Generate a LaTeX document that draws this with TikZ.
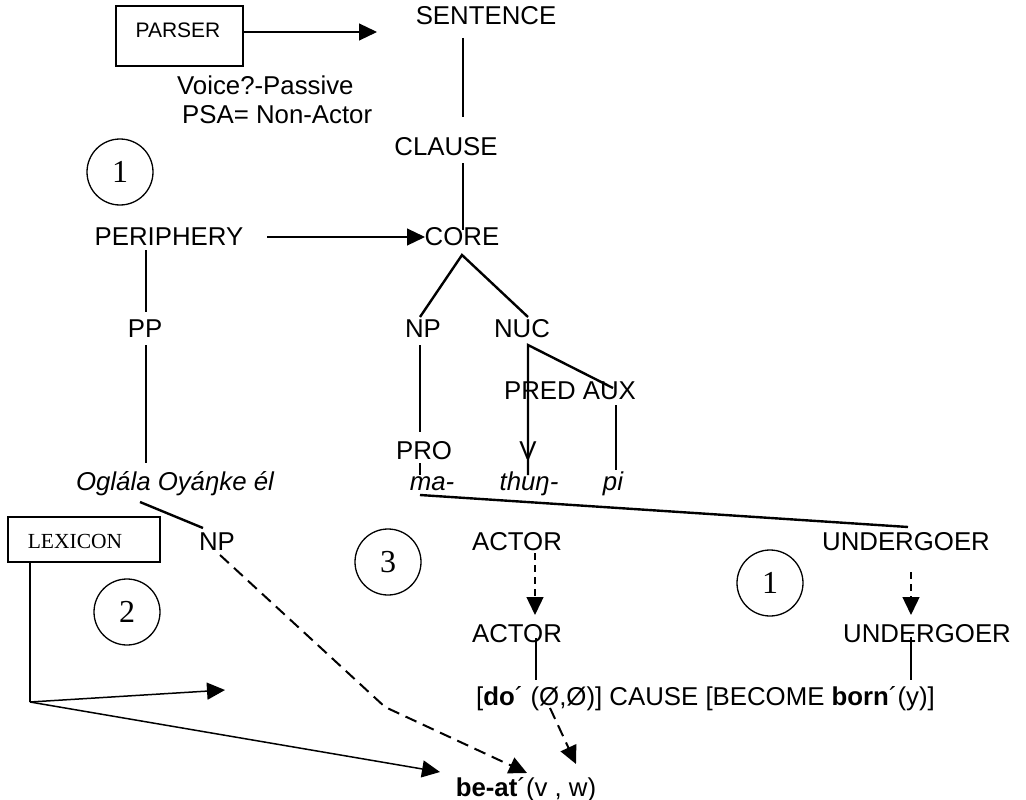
\documentclass[tikz,border=0pt]{standalone}
\usepackage{fontspec}
\setmainfont{Liberation Sans}
\newfontfamily\sansmain{Liberation Sans}
\newfontfamily\serifnum{Liberation Serif}
\usetikzlibrary{arrows.meta}
\begin{document}
\begin{tikzpicture}[x=1pt,y=-1pt,
  lbl/.style={inner sep=0pt, anchor=base, font=\sansmain\fontsize{25.8}{30}\selectfont},
  ital/.style={inner sep=0pt, anchor=base, font=\sansmain\fontsize{25.8}{30}\selectfont\itshape},
  tree/.style={line width=2.4pt},
  tip/.style={-{Triangle[length=18pt,width=17pt]}},
  thinarr/.style={line width=1.2pt, tip},
  lexarr/.style={line width=1.5pt, tip},
  dasharr/.style={line width=1.4pt, dash pattern=on 7pt off 5pt, tip},
  longdash/.style={line width=2pt, dash pattern=on 12pt off 7pt, tip},
  boxed/.style={draw, line width=1.3pt, inner sep=0pt},
  num/.style={draw, circle, line width=1.3pt, minimum size=66pt, inner sep=0pt,
    font=\serifnum\fontsize{32}{36}\selectfont},
]
\useasboundingbox (0,0) rectangle (1026,800);

% boxes
\node[boxed, minimum width=127pt, minimum height=60pt] (parserbox) at (179.5,36) {};
\node[inner sep=0pt, anchor=base, font=\sansmain\fontsize{21}{24}\selectfont] (parser) at (178,38) {PARSER};
\node[boxed, minimum width=152pt, minimum height=45pt] (lexbox) at (84,539.5) {};
\node[inner sep=0pt, anchor=base, font=\serifnum\fontsize{21.5}{24}\selectfont] (lexicon) at (75,548) {LEXICON};

% circled numbers
\node[num] (c1) at (120,172) {1};
\node[num] (c2) at (127,612) {2};
\node[num] (c3) at (388,562) {3};
\node[num] (c4) at (770,583) {1};

% labels
\node[lbl] (sentence) at (486,25) {SENTENCE};
\node[lbl, anchor=base west] (voice) at (177,95) {Voice?-Passive};
\node[lbl, anchor=base west] (psa) at (182,123) {PSA= Non-Actor};
\node[lbl] (clause) at (446,155) {CLAUSE};
\node[lbl] (periphery) at (169,245) {PERIPHERY};
\node[lbl] (core) at (462,245) {CORE};
\node[lbl] (pp) at (145,337) {PP};
\node[lbl] (np1) at (423,337) {NP};
\node[lbl] (nuc) at (522,337) {NUC};
\node[lbl] (predaux) at (570,399) {PRED AUX};
\node[lbl] (pro) at (424,459) {PRO};
\node[lbl] (v) at (528,459) {V};
\node[ital] (ogl) at (175,490) {Oglála Oyáŋke él};
\node[ital] (ma) at (432,490) {ma-};
\node[ital] (thun) at (529,490) {thuŋ-};
\node[ital] (pi) at (613,490) {pi};
\node[lbl] (np2) at (217,550) {NP};
\node[lbl] (actor1) at (517,550) {ACTOR};
\node[lbl] (under1) at (906,550) {UNDERGOER};
\node[lbl] (actor2) at (517,642) {ACTOR};
\node[lbl] (under2) at (927,642) {UNDERGOER};
\node[lbl] (formula) at (705.5,705) {[\textbf{do}´ (Ø,Ø)] CAUSE [BECOME \textbf{born}´(y)]};
\node[lbl] (beat) at (526,796) {\textbf{be-at}´(v , w)};

% connector end points
\coordinate (pa1) at (243,32);   \coordinate (pa2) at (377,32);
\coordinate (s1) at (463,38);    \coordinate (s2) at (463,117);
\coordinate (cl1) at (463,163);  \coordinate (cl2) at (463,230);
\coordinate (pe1) at (267,237);  \coordinate (pe2) at (425,237);
\coordinate (co) at (462,255);
\coordinate (np1t) at (420,317); \coordinate (nuct) at (528,317);
\coordinate (pe3) at (146,250);  \coordinate (pp1) at (146,312);
\coordinate (pp2) at (146,345);  \coordinate (og1) at (146,463);
\coordinate (np1b) at (420,345); \coordinate (prot) at (420,432);
\coordinate (nucb) at (528,345); \coordinate (auxt) at (613,388);
\coordinate (vb) at (528,475);
\coordinate (auxb) at (616,405); \coordinate (pit) at (616,470);
\coordinate (prob) at (420,463); \coordinate (mat) at (420,475);
\coordinate (mab) at (420,495);  \coordinate (un1t) at (908,527);
\coordinate (ogb) at (140,502);  \coordinate (np2t) at (203,528);
\coordinate (np2b) at (220,555); \coordinate (bend) at (385,707); \coordinate (bt1) at (527,773);
\coordinate (ac1b) at (535,553); \coordinate (ac2t) at (535,615);
\coordinate (un1b) at (911,572); \coordinate (un2t) at (911,615);
\coordinate (ac2b) at (536,638); \coordinate (fo1) at (536,680);
\coordinate (un2b) at (911,637); \coordinate (fo2) at (911,680);
\coordinate (oslash) at (550,708); \coordinate (bt2) at (576,764);
\coordinate (lx1) at (30,562);   \coordinate (lx2) at (30,702);
\coordinate (lxa) at (225,690);  \coordinate (bt3) at (440,772);

% connectors
\draw[thinarr] (pa1) -- (pa2);
\draw[tree] (s1) -- (s2);
\draw[tree] (cl1) -- (cl2);
\draw[thinarr] (pe1) -- (pe2);
\draw[tree] (np1t) -- (co) -- (nuct);
\draw[tree] (pe3) -- (pp1);
\draw[tree] (pp2) -- (og1);
\draw[tree] (np1b) -- (prot);
\draw[tree] (auxt) -- (nucb) -- (vb);
\draw[tree] (auxb) -- (pit);
\draw[tree] (prob) -- (mat);
\draw[tree] (mab) -- (un1t);
\draw[tree] (ogb) -- (np2t);
\draw[longdash] (np2b) -- (bend) -- (bt1);
\draw[dasharr] (ac1b) -- (ac2t);
\draw[dasharr] (un1b) -- (un2t);
\draw[tree] (ac2b) -- (fo1);
\draw[tree] (un2b) -- (fo2);
\draw[longdash] (oslash) -- (bt2);
\draw[line width=2.4pt] (lx1) -- (lx2);
\draw[lexarr] (lx2) -- (lxa);
\draw[lexarr] (lx2) -- (bt3);
\end{tikzpicture}
\end{document}
